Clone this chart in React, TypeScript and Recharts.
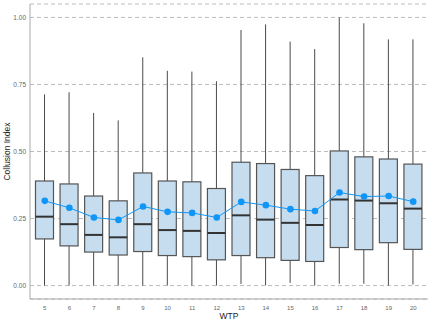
import { Bar, CartesianGrid, ComposedChart, Line, XAxis, YAxis } from "recharts";

// WTP groups and box-plot stats
const wtp = ["5", "6", "7", "8", "9", "10", "11", "12", "13", "14", "15", "16", "17", "18", "19", "20"];
const whiskerLow = [0, 0, 0, 0, 0, 0, 0, 0, 0.006, 0.001, 0.01, 0, 0.007, 0.007, 0, 0.004];
const q1 = [0.174, 0.148, 0.125, 0.114, 0.127, 0.112, 0.108, 0.096, 0.112, 0.104, 0.094, 0.09, 0.142, 0.134, 0.16, 0.135];
const median = [0.257, 0.229, 0.189, 0.18, 0.229, 0.207, 0.204, 0.196, 0.262, 0.246, 0.234, 0.226, 0.321, 0.317, 0.307, 0.287];
const q3 = [0.39, 0.379, 0.334, 0.316, 0.42, 0.39, 0.387, 0.362, 0.46, 0.455, 0.433, 0.41, 0.502, 0.48, 0.472, 0.453];
const whiskerHigh = [0.713, 0.721, 0.644, 0.616, 0.851, 0.801, 0.798, 0.762, 0.953, 0.974, 0.91, 0.882, 1.0, 0.978, 0.918, 0.918];
const mean = [0.316, 0.29, 0.254, 0.245, 0.295, 0.275, 0.271, 0.254, 0.312, 0.3, 0.285, 0.278, 0.347, 0.332, 0.334, 0.313];
const yTicks = [0, 0.25, 0.5, 0.75, 1];

const data = wtp.map((w, i) => ({
    wtp: w,
    lo: whiskerLow[i],
    q1: q1[i],
    median: median[i],
    q3: q3[i],
    hi: whiskerHigh[i],
    mean: mean[i],
}));

const FONT = "'Liberation Sans', Arial, sans-serif";

function BoxShape(props: any) {
    const { x, y, width, height, payload } = props;
    if (height == null || isNaN(y)) return null;
    const span = payload.hi - payload.lo;
    // map a value inside [lo, hi] onto the pixel span the bar was given
    const py = (v: number) => y + (height * (payload.hi - v)) / span;
    const cx = x + width / 2;
    const top = py(payload.q3);
    const bot = py(payload.q1);
    return (
        <g>
            <line x1={cx} x2={cx} y1={y} y2={y + height} stroke="#4a4a4a" strokeWidth={1} />
            <rect x={x} y={top} width={width} height={bot - top} fill="#c6ddef" stroke="#555" strokeWidth={1.2} />
            <line x1={x} x2={x + width} y1={py(payload.median)} y2={py(payload.median)} stroke="#333" strokeWidth={2} />
        </g>
    );
}

function YTitle(props: any) {
    const vb = props.viewBox || {};
    const cy = vb.y + vb.height / 2;
    return (
        <text x={10} y={cy} transform={`rotate(-90, 10, ${cy})`} textAnchor="middle" fontSize={8.5} fill="#222" fontFamily={FONT}>
            Collusion Index
        </text>
    );
}

function XTitle(props: any) {
    const vb = props.viewBox || {};
    return (
        <text x={vb.x + vb.width / 2} y={319} textAnchor="middle" fontSize={8.5} fill="#222" fontFamily={FONT}>
            WTP
        </text>
    );
}

export default function App() {
    return (
        <div style={{ position: "absolute", left: 0, top: 0, background: "#fff" }}>
            <ComposedChart width={432} height={324} data={data} margin={{ top: 4, right: 4, bottom: 0, left: 0 }}>
                <CartesianGrid vertical={false} stroke="#bbb" strokeDasharray="4 3" />
                <XAxis
                    dataKey="wtp"
                    height={25}
                    padding={{ left: 2.5, right: 2.5 }}
                    tickLine={false}
                    tickSize={0}
                    tickMargin={7}
                    axisLine={{ stroke: "#aaa" }}
                    tick={{ fontSize: 6, fill: "#666", fontFamily: FONT }}
                    interval={0}
                    label={<XTitle />}
                />
                <YAxis
                    type="number"
                    domain={[-0.05, 1.05]}
                    ticks={yTicks}
                    allowDataOverflow
                    width={30}
                    tickLine={false}
                    tickSize={0}
                    tickMargin={4}
                    axisLine={{ stroke: "#aaa" }}
                    tick={{ fontSize: 6.5, fill: "#666", fontFamily: FONT }}
                    tickFormatter={(v: number) => v.toFixed(2)}
                    label={<YTitle />}
                />
                <Bar
                    dataKey={(d: any) => [d.lo, d.hi]}
                    barSize={18}
                    shape={<BoxShape />}
                    isAnimationActive={false}
                />
                <Line
                    dataKey="mean"
                    stroke="#1096f8"
                    strokeWidth={1}
                    dot={{ r: 3.3, fill: "#1096f8", stroke: "none" }}
                    isAnimationActive={false}
                />
            </ComposedChart>
        </div>
    );
}
